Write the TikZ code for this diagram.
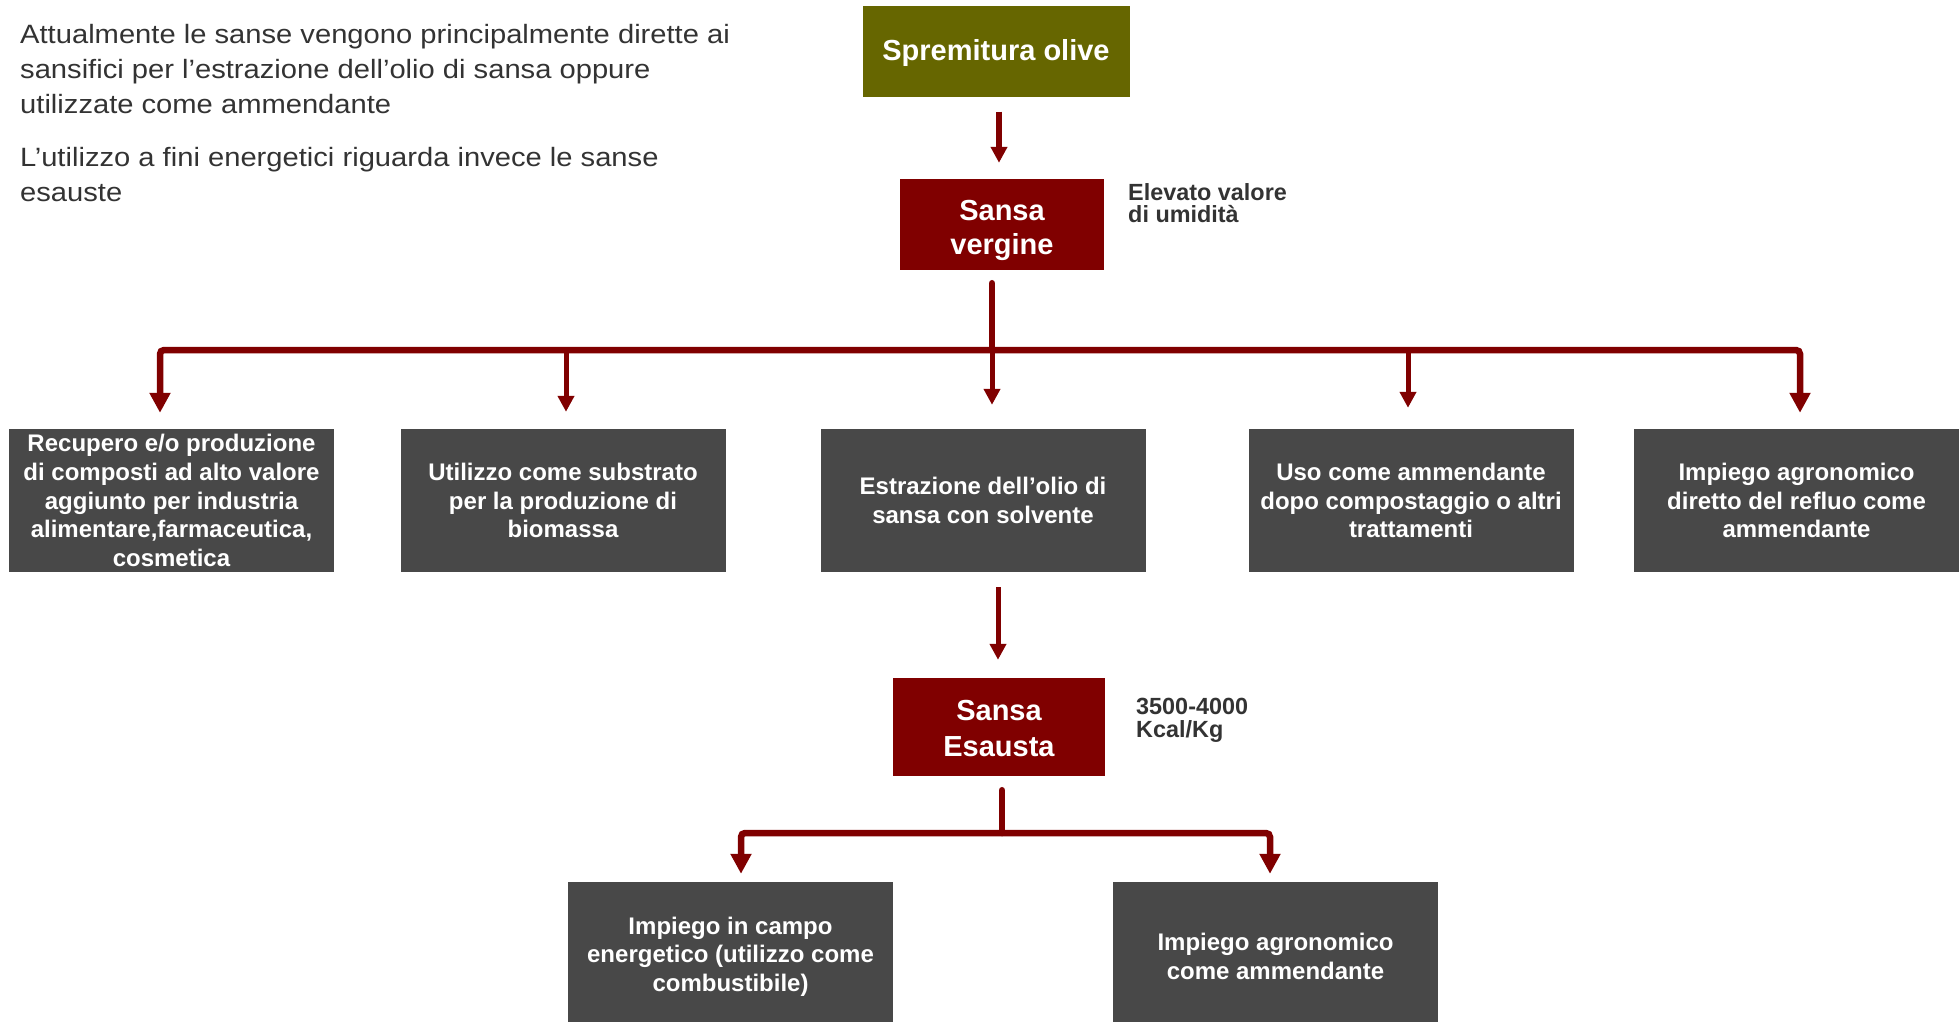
\documentclass[tikz,border=0pt]{standalone}
\usepackage{fontspec}
\setmainfont{Liberation Sans}
\newfontfamily\parafont[FakeStretch=1.1]{Liberation Sans}
\usetikzlibrary{arrows.meta}
\definecolor{dred}{HTML}{800000}
\definecolor{oliv}{HTML}{666600}
\definecolor{boxgray}{HTML}{484848}
\definecolor{txtgray}{HTML}{333333}
\newcommand\myfs[2]{\fontsize{#1}{#2}\selectfont}
\newcommand\pushdown[1]{\rule{0pt}{#1}}
\tikzset{
  title/.style={fill=#1, text=white, inner sep=0pt, align=center, font=\bfseries\myfs{29}{34}},
  gbox/.style={fill=boxgray, text=white, inner sep=0pt, align=center, minimum width=325pt, minimum height=143pt, font=\bfseries\myfs{24}{28.7}},
  para/.style={text=txtgray, inner sep=0pt, align=left, font=\parafont\myfs{26.5}{35}},
  note/.style={text=txtgray, inner sep=0pt, align=left, font=\bfseries\myfs{23.4}{22.7}},
  link/.style={draw=dred, line width=6.5pt, line cap=round},
  arr/.style={draw=dred, line width=5pt, -{Triangle[width=16pt,length=16pt]}},
  arrmid/.style={draw=dred, line width=6pt, -{Triangle[width=16pt,length=16pt]}},
  arrbig/.style={draw=dred, line width=6.5pt, rounded corners=4pt, -{Triangle[width=20pt,length=20pt]}},
}
\begin{document}
\begin{tikzpicture}[x=1pt,y=-1pt]
\useasboundingbox (0,0) rectangle (1959,1021);

% intro text
\node[para, anchor=north west] (p1) at (20,24) {Attualmente le sanse vengono principalmente dirette ai\\sansifici per l’estrazione dell’olio di sansa oppure\\utilizzate come ammendante};
\node[para, anchor=north west] (p2) at (20,147) {L’utilizzo a fini energetici riguarda invece le sanse\\esauste};

% main boxes
\node[title=oliv, minimum width=267pt, minimum height=91pt] (sp) at (996,51) {\pushdown{26pt}Spremitura olive};
\node[title=dred, minimum width=204pt, minimum height=91pt] (sv) at (1002,224.5) {\pushdown{31.5pt}Sansa\\vergine};
\node[title=dred, minimum width=212pt, minimum height=98pt, font=\bfseries\myfs{29}{36}] (se) at (999,727) {\pushdown{23.5pt}Sansa\\Esausta};

\node[note, anchor=north west] (n1) at (1128,183) {Elevato valore\\di umidità};
\node[note, anchor=north west] (n2) at (1136,698) {3500-4000\\Kcal/Kg};

% row boxes
\node[gbox] (r1) at (171.5,500.5) {Recupero e/o produzione\\di composti ad alto valore\\aggiunto per industria\\alimentare,farmaceutica,\\cosmetica};
\node[gbox] (r2) at (563,500.5) {Utilizzo come substrato\\per la produzione di\\biomassa};
\node[gbox] (r3) at (983,500.5) {Estrazione dell’olio di\\sansa con solvente};
\node[gbox] (r4) at (1411,500.5) {Uso come ammendante\\dopo compostaggio o altri\\trattamenti};
\node[gbox] (r5) at (1796.5,500.5) {Impiego agronomico\\diretto del refluo come\\ammendante};

\node[gbox, minimum height=149pt] (b1) at (730.5,956.5) {Impiego in campo\\energetico (utilizzo come\\combustibile)};
\node[gbox, minimum height=149pt] (b2) at (1275.5,956.5) {Impiego agronomico\\come ammendante};

% connectors
\draw[arrmid] ([xshift=3pt,yshift=-15pt]sp.south) -- ([xshift=-3pt,yshift=16pt]sv.north);

\coordinate (j1) at (992,350);
\draw[link] ([xshift=-10pt,yshift=-13pt]sv.south) -- (j1);
\draw[arrbig] (j1) -| ([xshift=-11.5pt,yshift=16pt]r1.north);
\draw[arrbig] (j1) -| ([xshift=3.5pt,yshift=16pt]r5.north);
\draw[arr] (j1) -- ([xshift=9pt,yshift=24pt]r3.north);
\draw[arr] ([xshift=3pt]r2.north |- j1) -- ([xshift=3pt,yshift=17pt]r2.north);
\draw[arr] ([xshift=-3pt]r4.north |- j1) -- ([xshift=-3pt,yshift=21pt]r4.north);

\draw[arr] ([xshift=15pt,yshift=-15pt]r3.south) -- ([xshift=-1pt,yshift=18pt]se.north);

\coordinate (j2) at (1002,833);
\draw[link] ([xshift=3pt,yshift=-14pt]se.south) -- (j2);
\draw[arrbig] (j2) -| ([xshift=10.5pt,yshift=8pt]b1.north);
\draw[arrbig] (j2) -| ([xshift=-5.5pt,yshift=8pt]b2.north);
\end{tikzpicture}
\end{document}
